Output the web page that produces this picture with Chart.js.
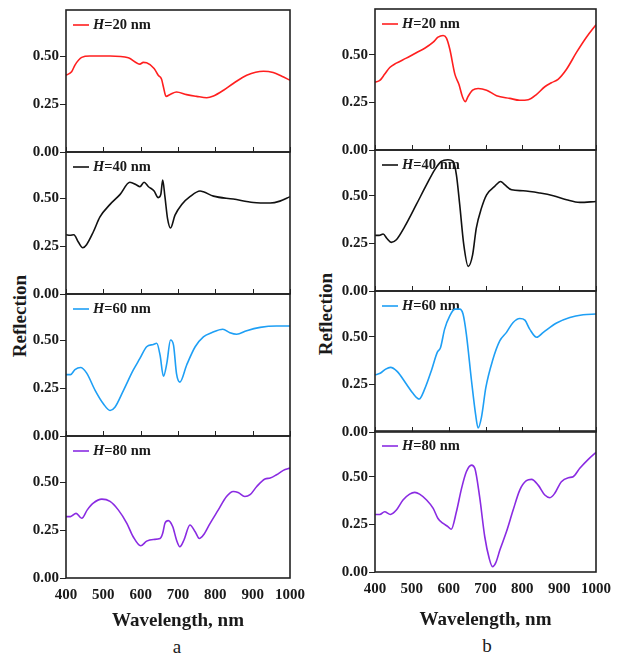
<!DOCTYPE html>
<html>
<head>
<meta charset="utf-8">
<script src="https://cdn.jsdelivr.net/npm/chart.js@4.4.0/dist/chart.umd.min.js"></script>
<style>
  html, body { margin: 0; padding: 0; background: #fff; }
  #wrap { position: relative; width: 621px; height: 656px; overflow: hidden; font-family: 'Liberation Serif', serif; }
  #wrap canvas { position: absolute; }
  .lbl { position: absolute; color: #1a1a1a; white-space: nowrap; transform: translate(-50%, -50%); }
  .ylab { font-weight: bold; font-size: 19px; transform: translate(-50%, -50%) rotate(-90deg); }
  .sub { font-size: 19px; }
</style>
</head>
<body>
<div id="wrap">
  <div class="lbl ylab" style="left:20px; top:316px;">Reflection</div>
  <div class="lbl ylab" style="left:326px; top:314px;">Reflection</div>
  <div class="lbl sub" style="left:177px; top:647px;">a</div>
  <div class="lbl sub" style="left:487px; top:646px;">b</div>
</div>
<script>
const xTicks = [400, 500, 600, 700, 800, 900, 1000];
const yTicks = [0, 0.25, 0.5];
const yMax = 0.74;
const heights = [20, 40, 60, 80];
const colors = ['#ff1f1f', '#111111', '#1e9ff5', '#8a2be2'];

// panel a
const aWl20 = [400,415,424,442,464,518,567,598,607,616,636,647,656,661,668,679,696,723,750,777,795,822,848,884,929,955,978,1000];
const aR20 = [0.40,0.418,0.453,0.493,0.50,0.50,0.491,0.458,0.467,0.465,0.435,0.40,0.379,0.339,0.29,0.30,0.313,0.299,0.29,0.283,0.292,0.322,0.357,0.40,0.421,0.414,0.395,0.374];
const aWl40 = [400,411,421,433,445,455,473,491,518,545,571,589,598,609,621,636,647,654,659,665,672,680,692,710,732,759,768,795,848,902,947,973,1000];
const aR40 = [0.309,0.306,0.309,0.271,0.241,0.257,0.323,0.402,0.467,0.519,0.582,0.568,0.559,0.582,0.559,0.537,0.502,0.519,0.594,0.507,0.393,0.344,0.411,0.467,0.507,0.537,0.533,0.51,0.495,0.477,0.474,0.484,0.507];
const aWl60 = [400,412,424,439,455,478,500,518,531,554,580,598,616,634,643,652,661,670,680,688,696,705,723,746,768,790,820,839,857,884,920,964,1000];
const aR60 = [0.32,0.32,0.346,0.357,0.329,0.238,0.168,0.133,0.15,0.238,0.343,0.404,0.465,0.477,0.483,0.421,0.311,0.378,0.50,0.474,0.325,0.281,0.369,0.465,0.517,0.538,0.556,0.538,0.53,0.549,0.566,0.573,0.573];
const aWl80 = [400,412,427,442,457,473,496,518,540,563,580,600,616,634,652,659,665,674,686,696,705,716,732,746,757,768,786,808,830,848,861,879,893,911,933,947,964,982,1000];
const aR80 = [0.32,0.32,0.337,0.311,0.355,0.39,0.411,0.399,0.355,0.285,0.215,0.168,0.192,0.201,0.206,0.233,0.285,0.299,0.267,0.198,0.163,0.198,0.276,0.241,0.206,0.224,0.285,0.355,0.425,0.451,0.446,0.425,0.434,0.477,0.516,0.521,0.538,0.561,0.573];

// panel b
const bWl20 = [400,413,426,440,458,485,517,535,558,571,585,594,603,617,628,637,645,653,665,680,703,730,766,793,816,838,861,879,897,920,947,974,1000];
const bR20 = [0.356,0.365,0.397,0.433,0.456,0.482,0.516,0.534,0.566,0.592,0.601,0.587,0.53,0.397,0.344,0.282,0.254,0.282,0.314,0.323,0.314,0.285,0.271,0.261,0.264,0.291,0.332,0.353,0.371,0.424,0.512,0.592,0.658];
const bWl40 = [400,411,422,433,444,458,481,512,540,562,580,598,612,621,630,641,653,665,675,689,703,725,741,752,771,802,848,884,920,956,1000];
const bR40 = [0.292,0.292,0.299,0.274,0.255,0.269,0.339,0.453,0.558,0.636,0.68,0.689,0.68,0.61,0.453,0.243,0.129,0.19,0.33,0.435,0.505,0.549,0.575,0.558,0.531,0.526,0.514,0.50,0.479,0.465,0.47];
const bWl60 = [400,414,429,442,460,485,503,520,535,553,569,578,589,603,617,630,639,648,662,673,680,689,701,719,739,757,775,793,807,820,839,857,893,929,965,1000];
const bR60 = [0.30,0.308,0.33,0.339,0.318,0.252,0.203,0.173,0.226,0.322,0.418,0.444,0.54,0.61,0.645,0.645,0.619,0.514,0.269,0.094,0.021,0.077,0.234,0.374,0.479,0.523,0.575,0.596,0.587,0.54,0.497,0.523,0.572,0.601,0.615,0.619];
const bWl80 = [400,413,426,442,458,476,494,508,521,540,558,571,585,598,607,621,635,648,662,671,684,698,710,719,728,739,757,775,793,811,825,843,861,875,888,906,925,938,956,979,1000];
const bR80 = [0.302,0.302,0.316,0.302,0.325,0.378,0.409,0.418,0.409,0.378,0.334,0.281,0.255,0.238,0.224,0.316,0.439,0.526,0.561,0.544,0.395,0.185,0.072,0.028,0.049,0.115,0.212,0.325,0.43,0.479,0.486,0.456,0.404,0.39,0.413,0.474,0.495,0.50,0.544,0.591,0.628];

const wrap = document.getElementById('wrap');
const FONT = 'Liberation Serif';
const INK = '#1a1a1a';

// canvases may overlap, they are transparent
const cols = [
  { x0: 0, w: 322, left: 66, right: 290, tops: [10, 152, 294, 436], h: 142, axisH: 60,
    series: [[aWl20, aR20], [aWl40, aR40], [aWl60, aR60], [aWl80, aR80]] },
  { x0: 310, w: 311, left: 375, right: 596, tops: [9, 150, 291, 431], h: 141, axisH: 65,
    series: [[bWl20, bR20], [bWl40, bR40], [bWl60, bR60], [bWl80, bR80]] }
];

// frame, inner x ticks and the little legend
const frame = {
  id: 'frame',
  beforeDatasetsDraw(chart, args, opts) {
    const { ctx, chartArea: a } = chart;
    const ds = chart.data.datasets[0];
    const y = a.top + 15;
    ctx.save();
    ctx.strokeStyle = ds.borderColor;
    ctx.lineWidth = 1.6;
    ctx.beginPath();
    ctx.moveTo(a.left + 7, y);
    ctx.lineTo(a.left + 23, y);
    ctx.stroke();
    ctx.fillStyle = INK;
    ctx.textBaseline = 'middle';
    ctx.font = `italic bold 14.5px "${FONT}"`;
    const head = ds.label.slice(0, 1);
    ctx.fillText(head, a.left + 27, y);
    const wHead = ctx.measureText(head).width;
    ctx.font = `bold 14.5px "${FONT}"`;
    ctx.fillText(ds.label.slice(1), a.left + 27 + wHead, y);
    ctx.restore();
  },
  afterDraw(chart, args, opts) {
    const { ctx, chartArea: a, scales: { x } } = chart;
    ctx.save();
    ctx.strokeStyle = '#222';
    if (!opts.last) {
      ctx.lineWidth = 1;
      xTicks.forEach(v => {
        const px = Math.round(x.getPixelForValue(v)) + 0.5;
        ctx.beginPath();
        ctx.moveTo(px, a.bottom);
        ctx.lineTo(px, a.bottom - 5);
        ctx.stroke();
      });
    }
    ctx.lineWidth = 1.6;
    ctx.strokeRect(a.left, a.top, a.right - a.left, a.bottom - a.top);
    ctx.restore();
  }
};

function makePanel(col, i) {
  const last = i === 3;
  const padT = 12, padB = last ? 0 : 12, axisH = last ? col.axisH : 0;
  const H = col.h + padT + padB + axisH;
  const cv = document.createElement('canvas');
  cv.width = col.w;
  cv.height = H;
  cv.style.left = col.x0 + 'px';
  cv.style.top = (col.tops[i] - padT) + 'px';
  cv.style.width = col.w + 'px';
  cv.style.height = H + 'px';
  wrap.appendChild(cv);

  const [wl, r] = col.series[i];
  new Chart(cv, {
    type: 'line',
    data: {
      datasets: [{
        label: 'H=' + heights[i] + ' nm',
        data: wl.map((x, k) => ({ x, y: r[k] })),
        borderColor: colors[i],
        borderWidth: 1.6,
        pointRadius: 0,
        cubicInterpolationMode: 'monotone',
        fill: false
      }]
    },
    options: {
      responsive: false,
      animation: false,
      events: [],
      layout: { padding: { left: 0, right: col.x0 + col.w - col.right, top: padT, bottom: padB } },
      plugins: {
        legend: { display: false },
        tooltip: { enabled: false },
        frame: { last }
      },
      scales: {
        x: {
          type: 'linear', min: 400, max: 1000,
          afterBuildTicks: s => { s.ticks = xTicks.map(v => ({ value: v })); },
          afterFit: s => { s.height = axisH; },
          grid: { display: false, drawTicks: false },
          border: { display: false },
          ticks: {
            display: last, padding: 8, color: INK, maxRotation: 0, autoSkip: false,
            font: { family: FONT, weight: 'bold', size: 15 },
            callback: v => String(v)
          },
          title: {
            display: last, text: 'Wavelength, nm', color: INK,
            font: { family: FONT, weight: 'bold', size: 19 },
            padding: { top: 8, bottom: 6 }
          }
        },
        y: {
          min: 0, max: yMax,
          afterBuildTicks: s => { s.ticks = yTicks.map(v => ({ value: v })); },
          afterFit: s => { s.width = col.left - col.x0; },
          grid: { drawOnChartArea: false, drawTicks: true, tickLength: 6, color: '#222', lineWidth: 1 },
          border: { display: false },
          ticks: {
            padding: 1, color: INK,
            font: { family: FONT, weight: 'bold', size: 15 },
            callback: v => Number(v).toFixed(2)
          }
        }
      }
    },
    plugins: [frame]
  });
}

cols.forEach(col => heights.forEach((_, i) => makePanel(col, i)));
</script>
</body>
</html>
